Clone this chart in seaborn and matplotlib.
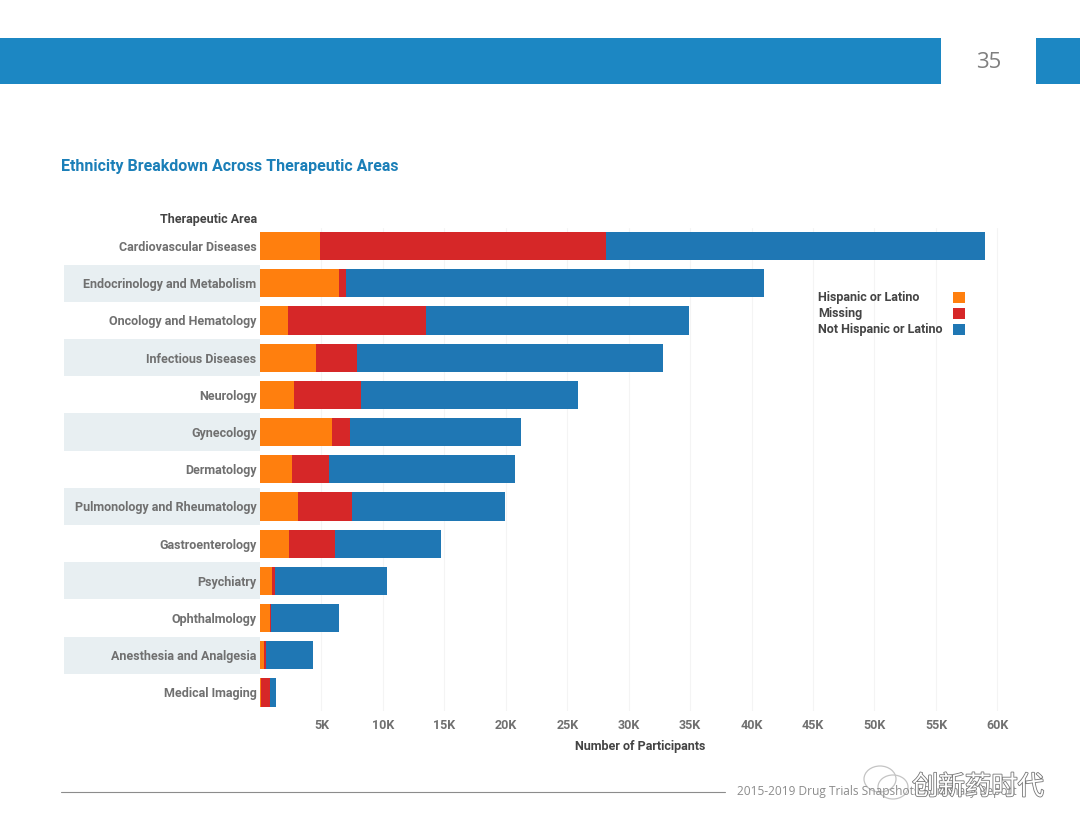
import numpy as np
import pandas as pd
import seaborn as sns
import matplotlib.pyplot as plt
import matplotlib.patheffects as pe
from matplotlib.patches import Rectangle, Ellipse
from matplotlib.ticker import FuncFormatter

areas = ["Cardiovascular Diseases", "Endocrinology and Metabolism", "Oncology and Hematology",
         "Infectious Diseases", "Neurology", "Gynecology", "Dermatology",
         "Pulmonology and Rheumatology", "Gastroenterology", "Psychiatry", "Ophthalmology",
         "Anesthesia and Analgesia", "Medical Imaging"]
# participants, in thousands
hispanic = [4.9, 6.4, 2.3, 4.55, 2.75, 5.85, 2.6, 3.1, 2.35, 1.0, 0.8, 0.3, 0.05]
missing = [23.25, 0.6, 11.2, 3.35, 5.45, 1.45, 3.0, 4.4, 3.75, 0.25, 0.1, 0.2, 0.8]
not_hispanic = [30.85, 34.0, 21.4, 24.9, 17.7, 13.9, 15.15, 12.4, 8.6, 9.1, 5.55, 3.8, 0.45]
legend_names = ["Hispanic or Latino", "Missing", "Not Hispanic or Latino"]
colors = ["#ff7f0e", "#d62728", "#1f77b4"]
ticks = list(range(5, 65, 5))

W, H = 1080, 834
BLUE = "#1c87c3"
FS = 9.0

sns.set_theme(style="white")
plt.rcParams["font.family"] = ["Roboto", "Noto Sans CJK SC", "DejaVu Sans"]

df = pd.DataFrame({"area": areas, "hispanic": hispanic, "missing": missing, "not_hispanic": not_hispanic})
df["c1"] = df["hispanic"]
df["c2"] = df["c1"] + df["missing"]
df["c3"] = df["c2"] + df["not_hispanic"]

fig = plt.figure(figsize=(W / 100, H / 100), dpi=100, facecolor="white")

# axes box in pixels: left 260, right 1015, top 227.5, bottom 711
ax = fig.add_axes([260 / W, 1 - 711 / H, (1015 - 260) / W, (711 - 227.5) / H])

# stack by drawing the longest segment first
for col, color in zip(["c3", "c2", "c1"], colors[::-1]):
    sns.barplot(data=df, y="area", x=col, color=color, saturation=1, width=0.76, order=areas, ax=ax,
                zorder=3, linewidth=0, edgecolor="none")

ax.set_xlim(0, 755 / 12.29)
ax.set_ylim(len(areas) - 0.5, -0.5)
ax.set_xticks(ticks)
ax.xaxis.set_major_formatter(FuncFormatter(lambda v, _: f"{int(v)}K"))
ax.tick_params(axis="x", length=0, labelsize=FS, labelcolor="#707070", pad=6)
ax.tick_params(axis="y", length=0, labelsize=FS, labelcolor="#707070", pad=2.5)
for lab in ax.get_yticklabels() + ax.get_xticklabels():
    lab.set_fontweight("bold")
ax.grid(axis="x", color="#f4f4f4", lw=0.8, zorder=0)
ax.set_ylabel("")
ax.set_xlabel("Number of Participants", fontsize=FS, fontweight="bold", color="#444444")
ax.xaxis.set_label_coords((640 - 260) / 755, -(740 - 711) / (711 - 227.5), transform=ax.transAxes)
sns.despine(ax=ax, left=True, bottom=True)

# alternate row bands behind the labels
band_trans = ax.get_yaxis_transform()
for i in range(1, len(areas), 2):
    ax.add_patch(Rectangle(((64 - 260) / 755, i - 0.5), (260 - 64) / 755, 1, transform=band_trans,
                           facecolor="#e8eff2", edgecolor="none", clip_on=False, zorder=0))

fig.text(257 / W, 1 - 219.5 / H, "Therapeutic Area", ha="right", va="center", fontsize=FS,
         fontweight="bold", color="#444444")

# legend
for i, (name, color) in enumerate(zip(legend_names, colors)):
    y = 297.5 + i * 16
    fig.text(818 / W, 1 - y / H, name, ha="left", va="center", fontsize=FS, fontweight="bold", color="#444444")
    fig.add_artist(Rectangle((953 / W, 1 - (y + 5.5) / H), 12 / W, 11 / H, transform=fig.transFigure,
                             facecolor=color, edgecolor="none"))

# slide furniture
fig.add_artist(Rectangle((0, 1 - 84 / H), 941 / W, 46 / H, transform=fig.transFigure, facecolor=BLUE, edgecolor="none"))
fig.add_artist(Rectangle((1036 / W, 1 - 84 / H), 44 / W, 46 / H, transform=fig.transFigure, facecolor=BLUE, edgecolor="none"))
fig.text(989 / W, 1 - 62 / H, "35", ha="center", va="center", fontsize=16, color="#7f7f7f",
         family=["Open Sans", "DejaVu Sans"])
fig.text(61 / W, 1 - 166 / H, "Ethnicity Breakdown Across Therapeutic Areas", ha="left", va="center",
         fontsize=11.5, fontweight="bold", color="#1b7fb8")
fig.add_artist(plt.Line2D([61 / W, 725 / W], [1 - 792 / H, 1 - 792 / H], color="#8c8c8c", lw=0.8))
fig.text(737 / W, 1 - 792 / H, "2015-2019 Drug Trials Snapshots Summary Report", ha="left", va="center",
         fontsize=8.6, color="#8c8c8c", family=["Open Sans", "DejaVu Sans"])

# watermark sits over the footer text, as in the source slide
for cx, cy, w, h in [(880, 779, 32, 26), (893, 787, 30, 24)]:
    fig.add_artist(Ellipse((cx / W, 1 - cy / H), w / W, h / H, transform=fig.transFigure,
                           facecolor="none", edgecolor="#c4c4c4", lw=0.9))
halo = [pe.withStroke(linewidth=1.2, foreground="#777777")]
fig.text(978 / W, 1 - 787 / H, "创新药时代", ha="center", va="center", fontsize=19, color="white",
         family=["Noto Sans CJK SC", "DejaVu Sans"], path_effects=halo)

fig.savefig("out.png", dpi=100, facecolor="white")
